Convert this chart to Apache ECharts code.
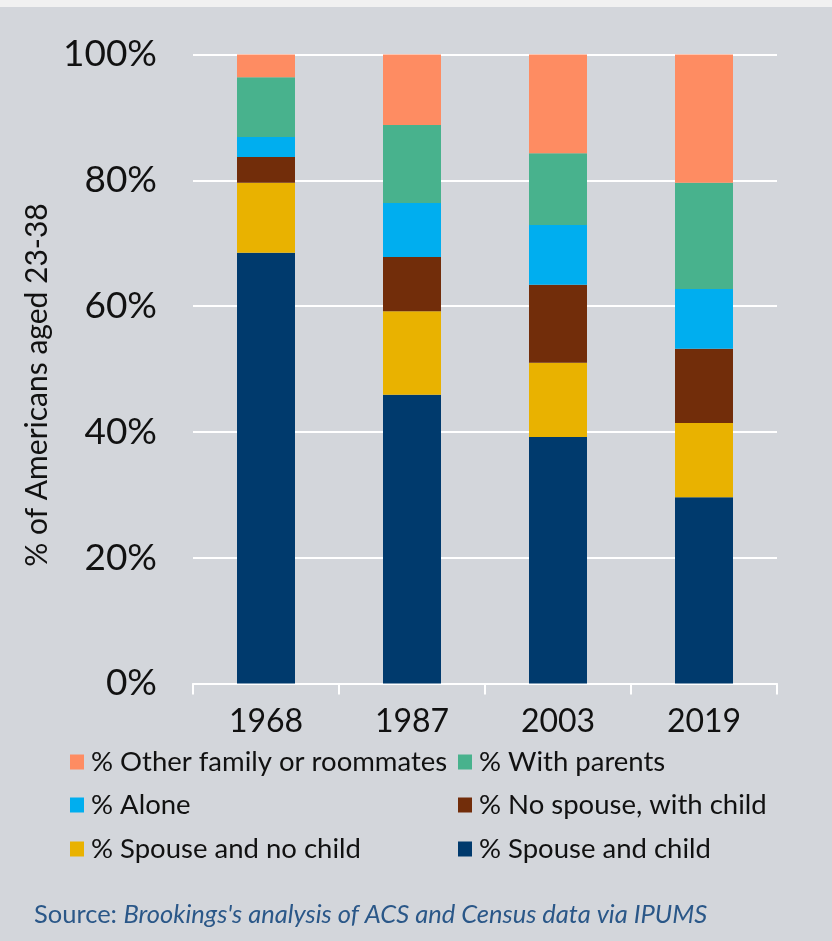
<!DOCTYPE html>
<html>
<head>
<meta charset="utf-8">
<script src="https://cdn.jsdelivr.net/npm/echarts@6/dist/echarts.min.js"></script>
<style>
  html, body { margin: 0; padding: 0; background: #d3d6db; }
  #chart { width: 832px; height: 941px; }
</style>
</head>
<body>
<div id="chart"></div>
<script>
// Living arrangements of Americans aged 23-38, share of each survey year (%)
const categories = ['1968', '1987', '2003', '2019'];
const spouseAndChild = [68.5, 45.9, 39.2, 29.6];
const spouseNoChild = [11.1, 13.3, 11.8, 11.8];
const noSpouseWithChild = [4.1, 8.6, 12.4, 11.8];
const alone = [3.2, 8.6, 9.5, 9.5];
const withParents = [9.5, 12.4, 11.4, 16.9];
const otherFamily = [3.6, 11.2, 15.7, 20.4];

const yTicks = [0, 20, 40, 60, 80, 100];

const FONT = 'Lato, "Noto Sans", sans-serif';

// stacked bottom to top
const seriesDefs = [
  { name: '% Spouse and child', data: spouseAndChild, color: '#003a6d' },
  { name: '% Spouse and no child', data: spouseNoChild, color: '#e9b200' },
  { name: '% No spouse, with child', data: noSpouseWithChild, color: '#722d0a' },
  { name: '% Alone', data: alone, color: '#00aeef' },
  { name: '% With parents', data: withParents, color: '#48b28d' },
  { name: '% Other family or roommates', data: otherFamily, color: '#fe8c62' }
];

// legend placement: [name, left, row centre]
const legendSlots = [
  ['% Other family or roommates', 70, 762],
  ['% With parents', 458, 762],
  ['% Alone', 70, 805],
  ['% No spouse, with child', 458, 805],
  ['% Spouse and no child', 70, 849],
  ['% Spouse and child', 458, 849]
];

const chart = echarts.init(document.getElementById('chart'), null, { renderer: 'canvas' });

chart.setOption({
  backgroundColor: '#d3d6db',
  animation: false,
  textStyle: { fontFamily: FONT },
  grid: { left: 193, right: 55, top: 54.5, bottom: 257.5, containLabel: false },
  xAxis: {
    type: 'category',
    data: categories,
    axisLine: { show: true, lineStyle: { color: '#ffffff', width: 2 } },
    axisTick: { show: true, length: 11, lineStyle: { color: '#ffffff', width: 2 } },
    axisLabel: { color: '#111111', fontSize: 32, fontFamily: FONT, margin: 22 }
  },
  yAxis: {
    type: 'value',
    min: yTicks[0],
    max: yTicks[yTicks.length - 1],
    interval: yTicks[1] - yTicks[0],
    name: '% of Americans aged 23-38',
    nameLocation: 'middle',
    nameRotate: 90,
    nameGap: 130,
    nameTextStyle: { color: '#111111', fontSize: 30, fontFamily: FONT, padding: [0, 32, 0, 0] },
    axisLine: { show: false },
    axisTick: { show: false },
    axisLabel: { color: '#111111', fontSize: 37, fontFamily: FONT, margin: 36, formatter: '{value}%' },
    splitLine: { show: true, lineStyle: { color: '#ffffff', width: 2 } }
  },
  legend: legendSlots.map(([name, left, cy]) => ({
    data: [name],
    left: left,
    top: cy - 15,
    icon: 'rect',
    itemWidth: 14,
    itemHeight: 15,
    itemGap: 0,
    padding: 0,
    selectedMode: false,
    textStyle: { color: '#111111', fontSize: 27.5, fontFamily: FONT, lineHeight: 30, padding: [0, 0, 0, 2] }
  })),
  series: seriesDefs.map(s => ({
    name: s.name,
    type: 'bar',
    stack: 'total',
    data: s.data,
    barWidth: 58,
    itemStyle: { color: s.color },
    emphasis: { disabled: true }
  })),
  graphic: [
    {
      type: 'rect',
      left: 0,
      top: 0,
      shape: { width: 832, height: 7 },
      style: { fill: '#f1f1f1' },
      silent: true
    },
    {
      type: 'text',
      left: 34,
      top: 902,
      silent: true,
      style: {
        text: '{n|Source: }{i|Brookings\'s analysis of ACS and Census data via IPUMS}',
        rich: {
          n: { fontSize: 25.5, fontFamily: FONT, fill: '#2a5788', fontStyle: 'normal' },
          i: { fontSize: 25.5, fontFamily: FONT, fill: '#2a5788', fontStyle: 'italic' }
        }
      }
    }
  ]
});
</script>
</body>
</html>
